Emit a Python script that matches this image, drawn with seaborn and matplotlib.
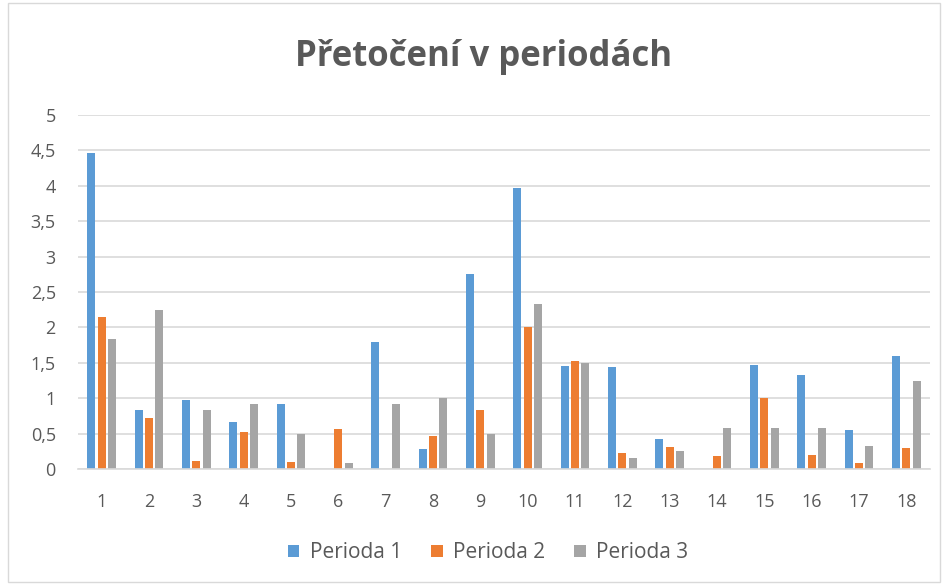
import matplotlib
matplotlib.use("Agg")
import matplotlib.pyplot as plt
import seaborn as sns
import pandas as pd
from matplotlib.patches import Rectangle, Patch

categories = [str(i) for i in range(1, 19)]
perioda1 = [4.47, 0.83, 0.97, 0.67, 0.92, 0.0, 1.79, 0.28, 2.75, 3.97, 1.45, 1.44, 0.42, 0.0, 1.47, 1.33, 0.55, 1.60]
perioda2 = [2.14, 0.72, 0.12, 0.52, 0.10, 0.56, 0.0, 0.46, 0.83, 2.00, 1.52, 0.23, 0.31, 0.19, 1.00, 0.20, 0.09, 0.29]
perioda3 = [1.83, 2.25, 0.83, 0.92, 0.50, 0.08, 0.92, 1.00, 0.50, 2.33, 1.50, 0.16, 0.25, 0.58, 0.58, 0.58, 0.33, 1.24]
series_names = ["Perioda 1", "Perioda 2", "Perioda 3"]
colors = ["#5B9BD5", "#ED7D31", "#A5A5A5"]
yticks = [0, 0.5, 1, 1.5, 2, 2.5, 3, 3.5, 4, 4.5, 5]
title = "Přetočení v periodách"

rows = []
for name, vals in zip(series_names, [perioda1, perioda2, perioda3]):
    for c, v in zip(categories, vals):
        rows.append({"cat": c, "val": v, "series": name})
df = pd.DataFrame(rows)

sns.set_theme(style="white")
plt.rcParams["font.family"] = ["Open Sans", "DejaVu Sans"]

fig = plt.figure(figsize=(9.48, 5.85), dpi=100)
ax = fig.add_axes([78/948, 1-469/585, (930-78)/948, (469-115)/585])

sns.barplot(data=df, x="cat", y="val", hue="series", order=categories,
            hue_order=series_names, palette=colors, width=0.655, gap=0.22,
            linewidth=0, ax=ax, legend=False, errorbar=None, saturation=1)

ax.set_ylim(0, 5)
ax.set_xlim(-0.5, 17.5)
ax.set_yticks(yticks)
ax.set_yticklabels([f"{t:g}".replace(".", ",") for t in yticks])
ax.yaxis.grid(True, color="#D9D9D9", linewidth=1.2)
ax.set_axisbelow(True)
for s in ["top", "right", "left"]:
    ax.spines[s].set_visible(False)
ax.spines["bottom"].set_color("#D9D9D9")
ax.spines["bottom"].set_linewidth(1.2)
ax.tick_params(axis="both", length=0, colors="#595959", labelsize=13)
ax.tick_params(axis="x", pad=17)
ax.tick_params(axis="y", pad=16)
ax.set_xlabel("")
ax.set_ylabel("")

fig.text(484/948, 1-57/585, title, ha="center", va="center",
         fontsize=25, fontweight="bold", color="#595959")

handles = [Patch(facecolor=c, edgecolor="none") for c in colors]
fig.legend(handles, series_names, loc="center", bbox_to_anchor=(488/948, 1-553/585),
           ncol=3, frameon=False, fontsize=15, labelcolor="#595959",
           handlelength=0.55, handleheight=0.55, handletextpad=0.5, columnspacing=1.4)

fig.patches.append(Rectangle((8/948, 3/585), 1-16/948, 1-6/585, transform=fig.transFigure,
                             fill=False, edgecolor="#D9D9D9", linewidth=1))

fig.savefig("out.png", dpi=100)
